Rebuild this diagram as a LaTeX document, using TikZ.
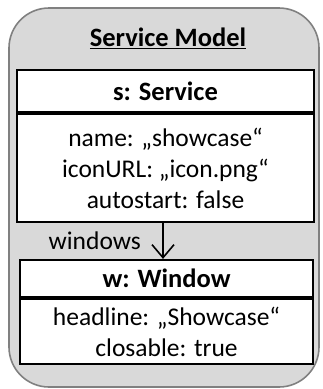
\documentclass[tikz,border=0pt]{standalone}
\usepackage{fontspec}
\setmainfont{Carlito}
\usetikzlibrary{arrows.meta, positioning}
\tikzset{x=1pt, y=-1pt, >={Straight Barb[length=13pt, width=22pt]}}

\begin{document}
\begin{tikzpicture}
% Style
[
    font=\fontsize{25.5}{31}\selectfont,
    model box/.style={rounded corners=40pt, fill=black!15, draw=black!50, line width=1.6pt},
    class head/.style={draw, fill=white, line width=2.2pt, font=\fontsize{26.5}{31}\selectfont\bfseries, inner sep=0pt},
    class attr/.style={draw, fill=white, line width=2.2pt, align=center, inner sep=0pt},
    assoc/.style={->, line width=1.6pt}
]

%================================== Prepare ==================================
\useasboundingbox (0,0) rectangle (322,389);

% Draw: Model frame
\draw [model box] (9,8) rectangle (319,387);
\node [font=\fontsize{26.5}{31}\selectfont\bfseries] (model title) at (168,38) {\underline{Service Model}};

%=================================== Start ===================================
{
    % Draw: Service object
    \node [class head, minimum width=297pt, minimum height=42pt] (service head) at (165.5,91) {s: Service};
    \node [class attr, minimum width=297pt, minimum height=108pt, below=0pt of service head] (service attrs) {
        name: „showcase“\\
        iconURL: „icon.png“\\
        autostart: false
    };

    % Draw: Window object
    \node [class head, minimum width=293pt, minimum height=37pt] (window head) at (166.5,278.5) {w: Window};
    \node [class attr, minimum width=293pt, minimum height=65pt, below=0pt of window head] (window attrs) {
        headline: „Showcase“\\
        closable: true
    };

    % Draw: Association
    \draw [assoc] ([xshift=-2.5pt]service attrs.south) --
            node[left=18pt] {windows}
        ([xshift=-2.5pt]service attrs.south |- window head.north);
}
%==================================== END ====================================
\end{tikzpicture}
\end{document}
